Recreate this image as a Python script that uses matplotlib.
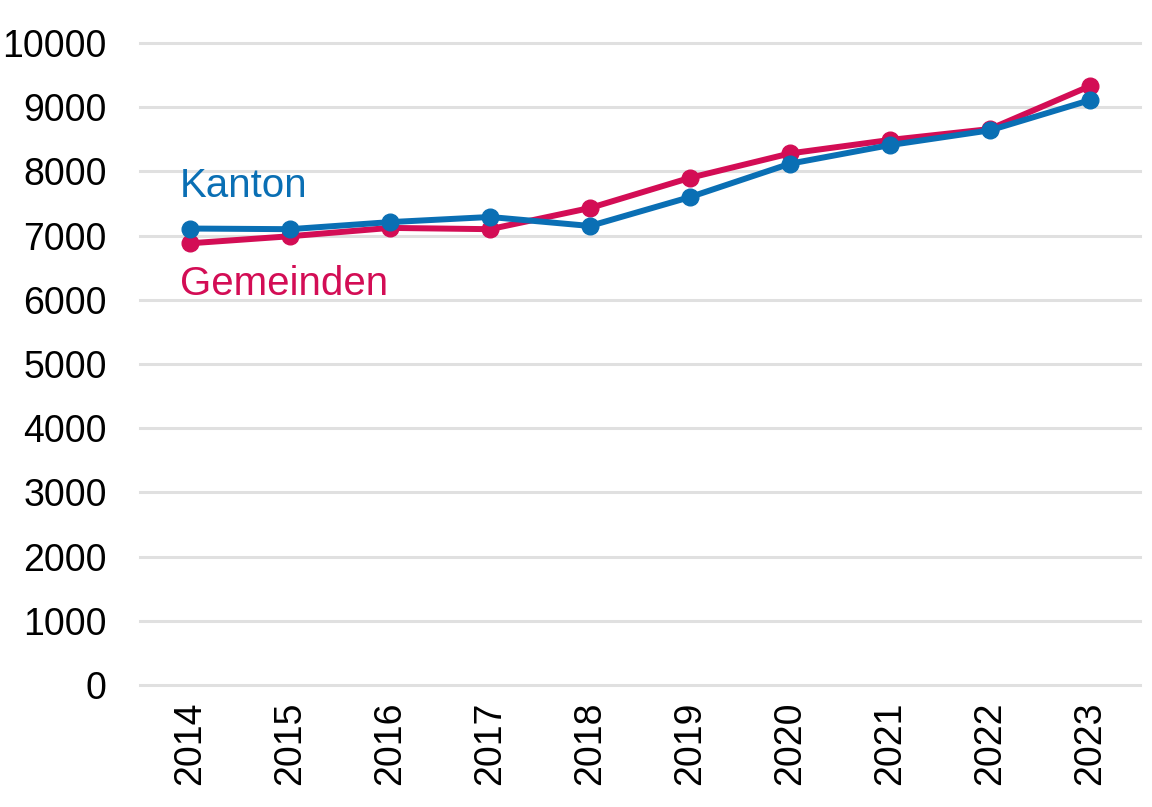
import matplotlib
matplotlib.use("Agg")
import matplotlib.pyplot as plt

years = ["2014", "2015", "2016", "2017", "2018", "2019", "2020", "2021", "2022", "2023"]
kanton = [7110, 7100, 7210, 7290, 7150, 7600, 8120, 8410, 8640, 9110]
gemeinden = [6880, 6990, 7120, 7100, 7430, 7900, 8280, 8490, 8660, 9330]
yticks = [0, 1000, 2000, 3000, 4000, 5000, 6000, 7000, 8000, 9000, 10000]

BLUE = "#0a6fb4"
RED = "#d30d55"

plt.rcParams["font.family"] = ["Liberation Sans", "DejaVu Sans"]

fig = plt.figure(figsize=(11.52, 8.07), dpi=100)
ax = fig.add_axes([140 / 1152, 1 - 685 / 807, 1000 / 1152, 642 / 807])

x = list(range(len(years)))
ax.plot(x, gemeinden, color=RED, lw=4.3, marker="o", ms=12, zorder=3)
ax.plot(x, kanton, color=BLUE, lw=4.3, marker="o", ms=12, zorder=4)

ax.set_xlim(-0.5, len(years) - 0.5)
ax.set_ylim(0, 10000)
ax.set_yticks(yticks)
ax.set_yticklabels([str(v) for v in yticks], fontsize=27)
ax.set_xticks(x)
ax.set_xticklabels(years, rotation=90, fontsize=27)
ax.tick_params(axis="y", length=0, pad=24)
ax.tick_params(axis="x", length=0, pad=12)
ax.yaxis.grid(True, color="#e0e0e0", lw=2.2)
ax.set_axisbelow(True)
ax.grid(False, axis="x")
for s in ax.spines.values():
    s.set_visible(False)
for line in ax.get_ygridlines():
    line.set_clip_on(False)

ax.text(-0.1, 7780, "Kanton", color=BLUE, fontsize=29, va="center", ha="left")
ax.text(-0.1, 6250, "Gemeinden", color=RED, fontsize=29, va="center", ha="left")

fig.savefig("out.png", dpi=100)
